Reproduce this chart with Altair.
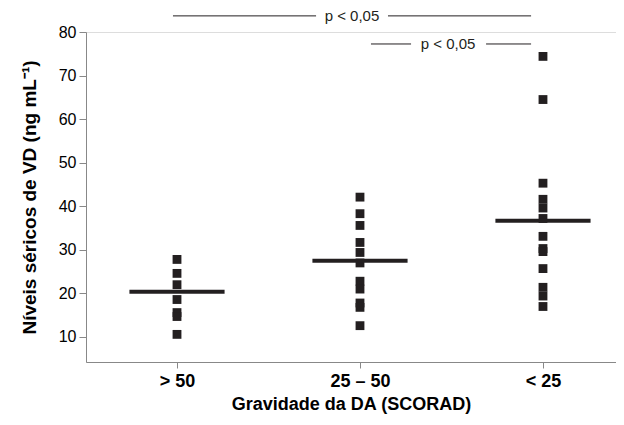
import json
import altair as alt
import pandas as pd

# ---- data ----
groups = ["> 50", "25 – 50", "< 25"]
vals_gt50 = [27.8, 24.6, 22.0, 18.6, 15.6, 14.7, 10.6]
vals_25_50 = [42.1, 38.3, 35.6, 31.7, 29.4, 27.0, 22.8, 21.0, 17.8, 16.8, 12.6]
vals_lt25 = [74.4, 64.5, 45.3, 41.6, 39.6, 37.2, 33.1, 30.3, 29.6, 25.7, 21.4, 19.4, 17.0]
group_means = [20.4, 27.5, 36.7]

# significance annotations (x in group-index units, y in ng/mL)
sig_labels = ["p < 0,05", "p < 0,05"]
sig_y = [83.7, 77.25]
sig_text_x = [0.956, 1.481]
sig_seg_start = [[-0.022, 1.153], [1.060, 1.689]]
sig_seg_end = [[0.760, 1.935], [1.279, 1.935]]

INK = "#231f20"
FONT = "Liberation Sans"

rows = []
for gi, vals in enumerate([vals_gt50, vals_25_50, vals_lt25]):
    for v in vals:
        rows.append({"g": gi, "v": v})
pts = pd.DataFrame(rows)

means_df = pd.DataFrame({"g": [0, 1, 2], "m": group_means})
means_df["x0"] = means_df["g"] - 0.26
means_df["x1"] = means_df["g"] + 0.26

segs = []
for i in range(2):
    for s, e in zip(sig_seg_start[i], sig_seg_end[i]):
        segs.append({"x0": s, "x1": e, "y": sig_y[i]})
segs_df = pd.DataFrame(segs)
txt_df = pd.DataFrame({"x": sig_text_x, "y": sig_y, "t": sig_labels})

xscale = alt.Scale(domain=[-0.4973, 2.399], nice=False, zero=False)
yscale = alt.Scale(domain=[4.26, 80], nice=False, zero=False)

label_expr = json.dumps(groups) + "[datum.value]"

points = alt.Chart(pts).mark_point(
    shape="square", filled=True, size=78, color=INK, opacity=1
).encode(
    x=alt.X("g:Q", scale=xscale,
            axis=alt.Axis(values=[0, 1, 2], labelExpr=label_expr, grid=False,
                          title="Gravidade da DA (SCORAD)",
                          labelFontWeight="bold", labelFontSize=18,
                          titleFontSize=18, titleFontWeight="bold",
                          labelPadding=4, titlePadding=5, tickSize=6)),
    y=alt.Y("v:Q", scale=yscale,
            axis=alt.Axis(values=[10, 20, 30, 40, 50, 60, 70, 80], grid=False,
                          title="Níveis séricos de VD (ng mL⁻¹)",
                          labelFontSize=16, titleFontSize=19,
                          titleFontWeight="bold", tickSize=7,
                          labelPadding=3, titlePadding=19)),
)

mean_lines = alt.Chart(means_df).mark_rule(color=INK, strokeWidth=4).encode(
    x="x0:Q", x2="x1:Q", y="m:Q"
)

sig_lines = alt.Chart(segs_df).mark_rule(color=INK, strokeWidth=1).encode(
    x="x0:Q", x2="x1:Q", y="y:Q"
)

sig_text = alt.Chart(txt_df).mark_text(
    color=INK, fontSize=15, font=FONT, baseline="middle", align="center"
).encode(x="x:Q", y="y:Q", text="t:N")

chart = alt.layer(points, mean_lines, sig_lines, sig_text).properties(
    width=530, height=330,
    autosize=alt.AutoSizeParams(type="none"),
    padding={"left": 78, "top": 24, "right": 0, "bottom": 55},
).configure_view(stroke=None, strokeWidth=0).configure_axis(
    grid=False, domainColor="#555555", domainWidth=1.5, tickColor="#555555",
    tickWidth=1.2, labelColor=INK, titleColor=INK, labelFont=FONT, titleFont=FONT,
).configure(background="white")

chart.save("out.html", embed_options={"renderer": "svg", "actions": False})
